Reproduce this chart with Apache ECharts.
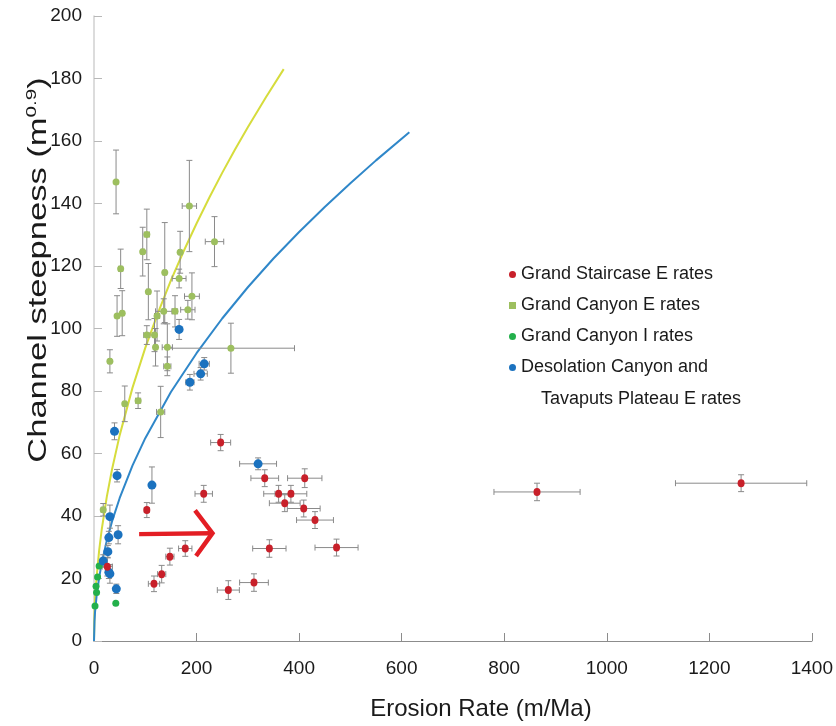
<!DOCTYPE html>
<html><head><meta charset="utf-8">
<script src="https://cdn.jsdelivr.net/npm/echarts@6/dist/echarts.min.js"></script>
<style>html,body{margin:0;padding:0;background:#fff}#c{width:836px;height:726px}</style>
</head><body><div id="c"></div>
<script>
// ---- data: [erosion rate, steepness, x error, y error]
const staircaseE = [
  [26, 23.8, 10, 3], [103, 41.9, 5, 2.4], [117, 18.3, 11, 2.5], [132, 21.4, 8, 2.8],
  [148, 27.0, 8, 2.7], [178, 29.6, 13, 2.5], [214, 47.1, 17, 2.7], [247, 63.5, 19.5, 2.6],
  [262, 16.3, 21.5, 3], [312, 18.7, 28, 2.8], [342, 29.6, 32.5, 2.8], [333, 52.1, 27, 2.7],
  [360, 47.1, 29, 2.7], [384, 47.1, 31, 2.7], [372, 44.1, 30, 2.7], [411, 52.1, 33.5, 3],
  [409, 42.4, 32, 2.7], [431, 38.7, 36, 2.7], [473, 29.9, 42, 2.7], [864, 47.7, 84, 2.8],
  [1262, 50.5, 128, 2.7]
];
const canyonE = [
  [43, 146.9, 3, 10.2], [186, 139.2, 14, 14.6], [103, 130.1, 5, 8.1], [235, 127.8, 18, 8],
  [95, 124.6, 3, 7.8], [168, 124.4, 3, 6.7], [52, 119.1, 4, 6.3], [138, 117.9, 3, 16],
  [166, 116.0, 13.5, 3], [106, 111.8, 3, 9], [191, 110.3, 14.5, 7.5], [45, 104.0, 3, 6.5],
  [55, 104.9, 3, 7.2], [136, 105.5, 16, 4], [158, 105.5, 5, 5], [183, 106.0, 14, 3],
  [123, 104.0, 5, 8], [103, 97.9, 6, 3], [118, 97.9, 3, 5.3], [120, 94.0, 3, 6],
  [143, 94.0, 10, 7.5], [267, 93.7, 124, 8], [31, 89.5, 3, 3.7], [143, 87.9, 7, 3],
  [60, 75.9, 3, 5.7], [86, 76.9, 5, 2.5], [130, 73.3, 8, 8.2], [18, 42.0, 4, 2]
];
const canyonI = [[10, 24.0], [7, 20.5], [4, 17.5], [5, 15.5], [2, 11.2], [42.5, 12.1]];
const desolation = [
  [166, 99.7, 3, 3.2], [215, 88.7, 10, 2], [208, 85.5, 13, 2], [187, 82.8, 8, 2.5],
  [40, 67.1, 3, 2.7], [45, 52.9, 3, 2], [113, 49.9, 3, 5.8], [31, 39.8, 3, 3.7],
  [29, 33.1, 3, 2], [47, 34.0, 3, 2.9], [27, 28.6, 3, 2], [18, 25.6, 3, 2],
  [29, 22.0, 3, 2], [31, 21.5, 3, 3], [43.5, 16.7, 3, 1.5], [320, 56.7, 36, 1.9]
];
// fitted curves
const yellowX = [0, 1, 2, 5, 10, 15, 25, 35, 50, 75, 100, 125, 150, 175, 200, 225, 250, 275, 300, 335, 370];
const yellowY = [0, 8.9, 13.5, 20.3, 28.9, 35.6, 46.2, 54.8, 65.8, 81.0, 93.8, 105.1, 115.4, 124.8, 133.6, 141.9, 149.8, 157.3, 164.4, 173.9, 183];
const blueX = [0, 1, 2, 5, 10, 15, 25, 35, 50, 75, 100, 150, 200, 250, 300, 350, 400, 450, 500, 550, 615];
const blueY = [0, 6.3, 9.2, 14.3, 20.2, 24.9, 32.2, 38.2, 45.7, 56.1, 64.9, 79.7, 92.1, 103.2, 113.2, 122.4, 130.9, 138.9, 146.5, 153.8, 162.8];
// red arrow annotation (data coordinates)
const arrowShaft = [[88, 34.2], [229, 34.5]];
const arrowHead = [[197, 41.8], [231, 34.5], [199, 27.2]];
const xTicks = [0, 200, 400, 600, 800, 1000, 1200, 1400];
const yTicks = [0, 20, 40, 60, 80, 100, 120, 140, 160, 180, 200];
const names = ['Grand Staircase E rates', 'Grand Canyon E rates', 'Grand Canyon I rates',
  'Desolation Canyon and Tavaputs Plateau E rates'];

function hasFont(f) {
  const c = document.createElement('canvas').getContext('2d');
  const t = 'Grand Staircase E rates';
  c.font = '22px monospace'; const a = c.measureText(t).width;
  c.font = '22px "' + f + '", monospace'; const b = c.measureText(t).width;
  return Math.abs(a - b) > 0.5;
}
const narrow = hasFont('Liberation Sans Narrow');
const legFont = narrow ? 'Liberation Sans Narrow' : 'Liberation Sans';
const legSize = narrow ? 22 : 18;
const FONT = '"Liberation Sans", Arial, sans-serif';

const errColor = '#8a8a8a';
function errSeries(data, name) {
  return {
    type: 'custom', name: name + ' err', z: 3, silent: true,
    dimensions: ['x', 'y', 'ex', 'ey'], encode: { x: 0, y: 1 },
    data: data,
    renderItem(params, api) {
      const x = api.value(0), y = api.value(1), ex = api.value(2), ey = api.value(3);
      const l = api.coord([x - ex, y]), r = api.coord([x + ex, y]);
      const t = api.coord([x, y + ey]), b = api.coord([x, y - ey]);
      const cap = 3, st = { stroke: errColor, lineWidth: 1 };
      const ln = (x1, y1, x2, y2) => ({ type: 'line', shape: { x1, y1, x2, y2 }, style: st });
      return { type: 'group', children: [
        ln(l[0], l[1], r[0], r[1]), ln(l[0], l[1] - cap, l[0], l[1] + cap), ln(r[0], r[1] - cap, r[0], r[1] + cap),
        ln(t[0], t[1], b[0], b[1]), ln(t[0] - cap, t[1], t[0] + cap, t[1]), ln(b[0] - cap, b[1], b[0] + cap, b[1])
      ] };
    }
  };
}
const zip = (a, b) => a.map((v, i) => [v, b[i]]);

const chart = echarts.init(document.getElementById('c'), null, { renderer: 'canvas' });
chart.setOption({
  animation: false,
  backgroundColor: '#fff',
  grid: { left: 94, right: 23, top: 16, bottom: 85, containLabel: false },
  xAxis: {
    type: 'value', min: xTicks[0], max: xTicks[xTicks.length - 1], interval: 200,
    name: 'Erosion Rate (m/Ma)', nameLocation: 'middle', nameGap: 56,
    nameTextStyle: { fontFamily: FONT, fontSize: 24, color: '#1a1a1a', padding: [0, 0, 0, 56] },
    axisLine: { lineStyle: { color: '#8c8c8c', width: 1.2 } },
    axisTick: { inside: true, length: 8, lineStyle: { color: '#8c8c8c' } },
    axisLabel: { fontFamily: FONT, fontSize: 19, color: '#1a1a1a', margin: 18, formatter: v => String(v) },
    splitLine: { show: false }
  },
  yAxis: {
    type: 'value', min: yTicks[0], max: yTicks[yTicks.length - 1], interval: 20,
    axisLine: { show: true, lineStyle: { color: '#d0d0d0', width: 1.5 } },
    axisTick: { show: true, inside: true, length: 8, lineStyle: { color: '#b8b8b8' } },
    axisLabel: { fontFamily: FONT, fontSize: 19, color: '#1a1a1a', margin: 12, formatter: v => String(v) },
    splitLine: { show: false }
  },
  legend: {
    orient: 'vertical', left: 509, top: 259, padding: 0, itemGap: 0,
    itemWidth: 7, itemHeight: 7, selectedMode: false,
    data: [
      { name: names[0], icon: 'circle' }, { name: names[1], icon: 'rect' },
      { name: names[2], icon: 'circle' }, { name: names[3], icon: 'circle' }
    ],
    formatter: n => n === names[3] ? 'Desolation Canyon and' : n,
    textStyle: { fontFamily: legFont, fontSize: legSize, color: '#1a1a1a', lineHeight: 31 }
  },
  graphic: [
    { type: 'text', x: 39, y: 270, rotation: Math.PI / 2, scaleX: 1.38,
      style: { text: '{a|Channel steepness (m}{s|0.9}{a|)}', align: 'center', verticalAlign: 'middle',
        fill: '#1a1a1a',
        rich: { a: { fontFamily: FONT, fontSize: 25, lineHeight: 30, fill: '#1a1a1a' },
                s: { fontFamily: FONT, fontSize: 15, verticalAlign: 'top', fill: '#1a1a1a' } } } },
    { type: 'text', x: 541, y: 399,
      style: { text: 'Tavaputs Plateau E rates', fontFamily: legFont, fontSize: legSize,
        fill: '#1a1a1a', align: 'left', verticalAlign: 'middle' } }
  ],
  series: [
    { type: 'line', name: 'GC fit', data: zip(yellowX, yellowY), showSymbol: false, smooth: false,
      z: 2, lineStyle: { color: '#d6dc3c', width: 2 }, silent: true },
    { type: 'line', name: 'DC fit', data: zip(blueX, blueY), showSymbol: false, smooth: false,
      z: 2, lineStyle: { color: '#2f87c9', width: 2 }, silent: true },
    errSeries(staircaseE, names[0]), errSeries(canyonE, names[1]), errSeries(desolation, names[3]),
    { type: 'scatter', name: names[1], data: canyonE.map(d => [d[0], d[1]]), symbol: 'circle', symbolSize: 7, z: 5,
      itemStyle: { color: '#9dbf5f', opacity: 1 } },
    { type: 'scatter', name: names[2], data: canyonI, symbol: 'circle', symbolSize: 7, z: 5,
      itemStyle: { color: '#23b04b', opacity: 1 } },
    { type: 'scatter', name: names[3], data: desolation.map(d => [d[0], d[1]]), symbol: 'circle', symbolSize: 9, z: 5,
      itemStyle: { color: '#1b72bf', opacity: 1 } },
    { type: 'scatter', name: names[0], data: staircaseE.map(d => [d[0], d[1]]), symbol: 'circle', symbolSize: [7, 8], z: 6,
      itemStyle: { color: '#c8202a', opacity: 1 } },
    { type: 'custom', name: 'arrow', z: 7, silent: true, data: [arrowShaft[0]], encode: { x: 0, y: 1 },
      renderItem(params, api) {
        const sh = arrowShaft.map(p => api.coord(p)), hd = arrowHead.map(p => api.coord(p));
        const st = { stroke: '#e31e24', lineWidth: 4.5, fill: null, lineJoin: 'miter' };
        return { type: 'group', children: [
          { type: 'polyline', shape: { points: sh }, style: st },
          { type: 'polyline', shape: { points: hd }, style: st }
        ] };
      } }
  ]
});
</script></body></html>
